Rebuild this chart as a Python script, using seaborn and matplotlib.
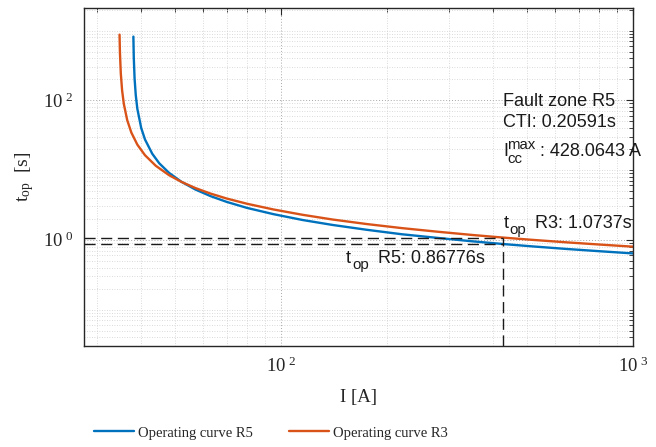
import matplotlib
matplotlib.use("Agg")
import matplotlib.pyplot as plt
import matplotlib.ticker as mticker
import seaborn as sns
import numpy as np
import pandas as pd

# values
current_r5 = [38.0, 38.1, 38.3, 38.6, 39.0, 40, 41, 43, 45, 48, 52, 57, 63, 70, 80,
              95, 115, 140, 175, 220, 280, 350, 428, 520, 650, 800, 1000]
time_r5 = [818, 410, 205, 118, 75.3, 40.0, 27.4, 17.1, 12.5, 9.10, 6.80, 5.26, 4.22,
           3.49, 2.86, 2.33, 1.92, 1.63, 1.39, 1.20, 1.06, 0.949, 0.868, 0.802,
           0.737, 0.686, 0.637]
current_r3 = [34.71, 34.8, 35.0, 35.3, 35.7, 36.5, 37.5, 39, 41, 44, 48, 52, 57, 63,
              70, 80, 95, 115, 140, 175, 220, 280, 350, 428, 520, 650, 800, 1000]
time_r3 = [873, 481, 241, 138, 88.5, 51.8, 34.4, 23.1, 16.3, 11.5, 8.43, 6.77, 5.52,
           4.59, 3.90, 3.28, 2.72, 2.28, 1.95, 1.68, 1.47, 1.30, 1.17, 1.0737, 0.995,
           0.917, 0.855, 0.796]

fault_current = 428.0643
t_op_r5 = 0.86776
t_op_r3 = 1.0737
cti = 0.20591

df = pd.concat([
    pd.DataFrame({"I": current_r5, "t": time_r5, "curve": "Operating curve R5"}),
    pd.DataFrame({"I": current_r3, "t": time_r3, "curve": "Operating curve R3"}),
])

sns.set_theme(style="white")
plt.rcParams["font.family"] = ["Liberation Serif", "DejaVu Serif"]
plt.rcParams["mathtext.fontset"] = "custom"
plt.rcParams["mathtext.rm"] = "Liberation Serif"
plt.rcParams["mathtext.it"] = "Liberation Serif:italic"
plt.rcParams["mathtext.sf"] = "Liberation Sans"

fig = plt.figure(figsize=(6.56, 4.47), dpi=100)
ax = fig.add_axes([0.128, 0.226, 0.837, 0.756])

palette = {"Operating curve R5": "#0072BD", "Operating curve R3": "#D95319"}
sns.lineplot(data=df, x="I", y="t", hue="curve", palette=palette, estimator=None,
             linewidth=1.7, ax=ax)

ax.set_xscale("log")
ax.set_yscale("log")
ax.set_xlim(27.5, 1000)
ax.set_ylim(0.03, 2100)

# dashed guide lines at the fault current
x0 = ax.get_xlim()[0]
dash = (0, (8, 4))
ax.plot([x0, fault_current], [t_op_r3, t_op_r3], color="k", lw=1.0, ls=dash)
ax.plot([x0, fault_current], [t_op_r5, t_op_r5], color="k", lw=1.0, ls=dash)
ax.plot([fault_current, fault_current], [ax.get_ylim()[0], t_op_r3], color="k", lw=1.0, ls=dash)

# ticks: labelled decades like the original
ax.xaxis.set_major_locator(mticker.FixedLocator([100, 1000]))
ax.yaxis.set_major_locator(mticker.FixedLocator([1, 100]))
ax.xaxis.set_minor_locator(mticker.LogLocator(base=10, subs=np.arange(1, 10), numticks=20))
ax.yaxis.set_minor_locator(mticker.LogLocator(base=10, subs=np.arange(1, 10), numticks=20))
ax.xaxis.set_minor_formatter(mticker.NullFormatter())
ax.yaxis.set_minor_formatter(mticker.NullFormatter())
fmt = mticker.FuncFormatter(lambda v, p: r"10$^{\,\,%d}$" % round(np.log10(v)))
ax.xaxis.set_major_formatter(fmt)
ax.yaxis.set_major_formatter(fmt)
ax.tick_params(which="both", direction="in", top=True, right=True, colors="#262626",
               labelcolor="#262626", labelsize=13.5)
ax.tick_params(which="major", length=5, width=0.8, pad=8)
ax.tick_params(which="minor", length=3, width=0.6)

ax.grid(which="major", linestyle=(0, (1, 2)), color="#a8a8a8", linewidth=0.7)
ax.grid(which="minor", linestyle=(0, (1, 2)), color="#cfcfcf", linewidth=0.6)
for s in ax.spines.values():
    s.set_color("#262626")
    s.set_linewidth(1.0)

ax.set_xlabel("I [A]", fontsize=13.5, color="#262626", labelpad=9)
ax.set_ylabel(r"t$_{\rm op}$  [s]", fontsize=14, color="#262626", labelpad=5)

# annotations, MATLAB style sub/superscripts built from pieces
sans = ["Liberation Sans", "DejaVu Sans"]


def note(x, y, parts):
    for txt, dx, dy, size in parts:
        ax.annotate(txt, (x, y), xytext=(dx * 0.72, dy * 0.72), textcoords="offset points",
                    fontsize=size, family=sans, color="k", va="baseline", ha="left")


note(fault_current, 82, [("Fault zone R5", 0, 0, 13)])
note(fault_current, 40.8, [("CTI: %.5fs" % cti, 0, 0, 13)])
note(fault_current, 15.7, [("I", 0, 0, 13), ("max", 4, 7, 10.8), ("cc", 4, -7, 10.8),
                           (": %.4f A" % fault_current, 37, 0, 13)])
note(fault_current, 1.48, [("t", 0, 0, 13), ("op", 6, -6, 10.8),
                           ("R3: %.4fs" % t_op_r3, 32, 0, 13)])
note(153, 0.47, [("t", 0, 0, 13), ("op", 6, -6, 10.8),
                 ("R5: %.5fs" % t_op_r5, 32, 0, 13)])

handles, labels = ax.get_legend_handles_labels()
ax.get_legend().remove()
fig.legend(handles, labels, loc="center", bbox_to_anchor=(271 / 656, 1 - 433 / 447),
           ncol=2, frameon=False, fontsize=10.5, handlelength=2.7, handletextpad=0.3,
           columnspacing=2.5)

fig.savefig("out.png", dpi=100)
